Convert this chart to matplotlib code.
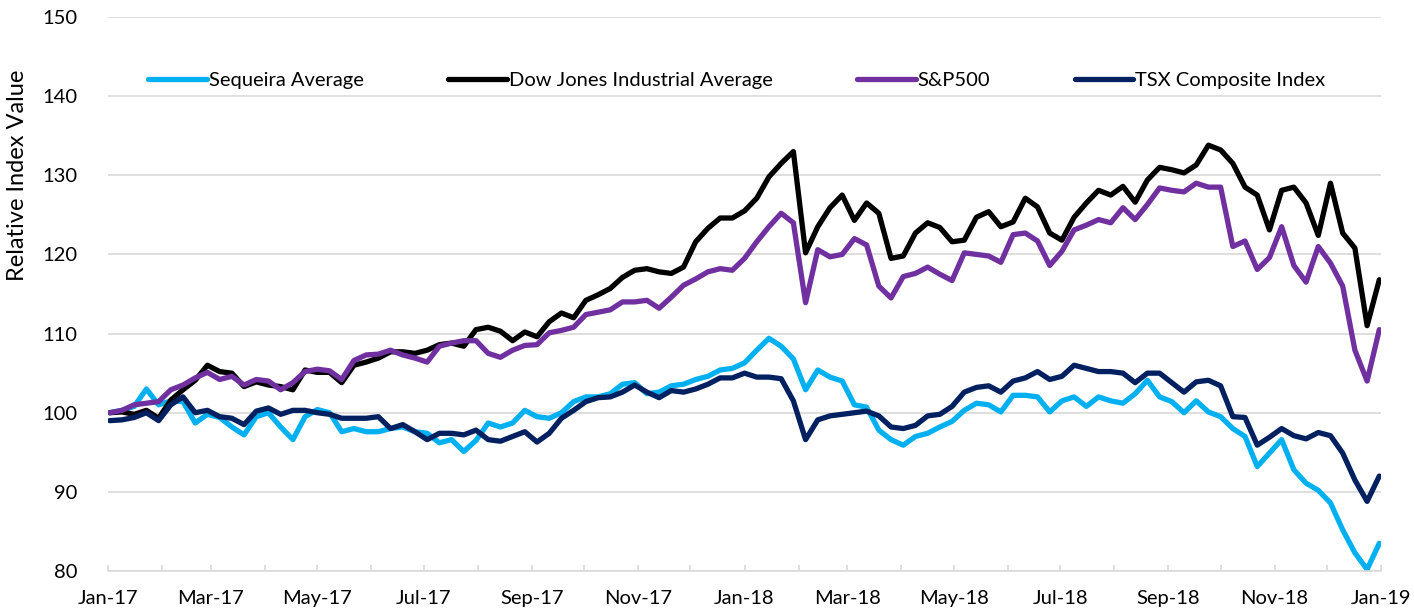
import pandas as pd
import matplotlib.pyplot as plt
import matplotlib.dates as mdates

# weekly readings, 2017-01-02 .. 2018-12-31
dates = pd.date_range("2017-01-02", periods=105, freq="7D")

sequeira = [100.0, 100.3, 100.8, 103.0, 101.0, 101.5, 101.4, 98.7, 99.8, 99.4,
            98.2, 97.2, 99.5, 100.0, 98.2, 96.6, 99.5, 100.4, 100.0, 97.6,
            98.0, 97.6, 97.6, 98.0, 98.2, 97.6, 97.4, 96.2, 96.6, 95.1,
            96.5, 98.7, 98.2, 98.7, 100.3, 99.5, 99.3, 100.0, 101.4, 102.0,
            102.0, 102.4, 103.6, 103.8, 102.4, 102.6, 103.4, 103.6, 104.2, 104.6,
            105.4, 105.6, 106.3, 107.9, 109.4, 108.4, 106.8, 102.9, 105.4, 104.5,
            104.0, 101.0, 100.7, 97.8, 96.6, 95.9, 97.0, 97.4, 98.2, 98.9,
            100.3, 101.2, 101.0, 100.1, 102.2, 102.2, 102.0, 100.1, 101.5, 102.0,
            100.8, 102.0, 101.5, 101.2, 102.4, 104.1, 102.0, 101.4, 100.0, 101.5,
            100.1, 99.5, 98.0, 97.0, 93.2, 94.9, 96.6, 92.8, 91.1, 90.2,
            88.6, 85.2, 82.3, 80.2, 83.5]

dow = [100.0, 100.1, 99.8, 100.3, 99.3, 101.6, 102.9, 104.1, 106.0, 105.2,
       105.0, 103.3, 103.9, 103.5, 103.3, 102.9, 105.4, 105.1, 105.1, 103.8,
       106.0, 106.4, 106.9, 107.7, 107.7, 107.5, 107.9, 108.6, 108.8, 108.4,
       110.5, 110.8, 110.3, 109.1, 110.2, 109.6, 111.5, 112.6, 112.0, 114.2,
       114.9, 115.7, 117.1, 118.0, 118.2, 117.8, 117.6, 118.4, 121.6, 123.3,
       124.6, 124.6, 125.5, 127.1, 129.8, 131.5, 133.0, 120.2, 123.5, 125.9,
       127.5, 124.3, 126.5, 125.2, 119.5, 119.8, 122.7, 124.0, 123.4, 121.6,
       121.8, 124.7, 125.4, 123.5, 124.1, 127.1, 126.0, 122.7, 121.8, 124.7,
       126.5, 128.1, 127.5, 128.6, 126.6, 129.4, 131.0, 130.7, 130.3, 131.3,
       133.8, 133.2, 131.5, 128.5, 127.5, 123.1, 128.1, 128.5, 126.5, 122.4,
       129.0, 122.7, 120.8, 111.0, 116.8]

sp500 = [100.0, 100.3, 101.0, 101.2, 101.4, 102.9, 103.5, 104.4, 105.1, 104.2,
         104.6, 103.5, 104.2, 104.0, 102.9, 103.8, 105.2, 105.5, 105.3, 104.2,
         106.6, 107.3, 107.4, 107.9, 107.3, 106.9, 106.4, 108.4, 108.8, 109.1,
         109.1, 107.5, 107.0, 107.9, 108.5, 108.6, 110.1, 110.4, 110.8, 112.4,
         112.7, 113.0, 114.0, 114.0, 114.2, 113.2, 114.6, 116.1, 116.9, 117.8,
         118.2, 118.0, 119.5, 121.6, 123.5, 125.2, 124.0, 113.9, 120.6, 119.7,
         120.0, 122.0, 121.2, 116.0, 114.5, 117.2, 117.6, 118.4, 117.5, 116.7,
         120.2, 120.0, 119.8, 119.0, 122.5, 122.7, 121.7, 118.6, 120.4, 123.1,
         123.7, 124.4, 124.0, 125.9, 124.4, 126.3, 128.4, 128.1, 127.9, 129.0,
         128.5, 128.5, 121.0, 121.7, 118.1, 119.6, 123.5, 118.6, 116.5, 121.0,
         118.9, 116.0, 107.9, 104.0, 110.5]

tsx = [99.0, 99.1, 99.4, 100.0, 99.0, 101.0, 102.0, 100.0, 100.3, 99.5,
       99.3, 98.5, 100.2, 100.6, 99.8, 100.3, 100.3, 100.0, 99.8, 99.3,
       99.3, 99.3, 99.5, 98.0, 98.5, 97.6, 96.6, 97.4, 97.4, 97.2,
       97.8, 96.6, 96.4, 97.0, 97.6, 96.3, 97.4, 99.3, 100.3, 101.4,
       101.9, 102.0, 102.6, 103.5, 102.6, 101.9, 102.8, 102.6, 103.0, 103.6,
       104.4, 104.4, 105.0, 104.5, 104.5, 104.3, 101.5, 96.6, 99.1, 99.6,
       99.8, 100.0, 100.2, 99.6, 98.2, 98.0, 98.4, 99.6, 99.8, 100.8,
       102.6, 103.2, 103.4, 102.6, 104.0, 104.4, 105.2, 104.2, 104.6, 106.0,
       105.6, 105.2, 105.2, 105.0, 103.8, 105.0, 105.0, 103.8, 102.6, 103.9,
       104.1, 103.4, 99.5, 99.4, 95.9, 96.9, 98.0, 97.1, 96.7, 97.5,
       97.1, 94.9, 91.5, 88.8, 92.0]

names = ["Sequeira Average", "Dow Jones Industrial Average", "S&P500", "TSX Composite Index"]
colors = ["#00B0F0", "#000000", "#7030A0", "#002060"]

plt.rcParams['font.family'] = ['Lato', 'DejaVu Sans']
plt.rcParams['font.size'] = 14.5

fig = plt.figure(figsize=(14.14, 6.15), dpi=100)
ax = fig.add_axes([0.0764, 0.0715, 0.9003, 0.9009])

for vals, name, c in zip([sequeira, dow, sp500, tsx], names, colors):
    ax.plot(dates, vals, color=c, lw=3.8, label=name,
            solid_joinstyle='round', solid_capstyle='round')

ax.set_ylim(80, 150)
ax.set_yticks(range(80, 151, 10))
ax.set_xlim(pd.Timestamp("2017-01-01"), pd.Timestamp("2019-01-01"))
ax.xaxis.set_major_locator(mdates.MonthLocator(bymonth=[1, 3, 5, 7, 9, 11]))
ax.xaxis.set_major_formatter(mdates.DateFormatter("%b-%y"))
ax.xaxis.set_minor_locator(mdates.MonthLocator())

ax.grid(axis='y', color='#D9D9D9', lw=1.2)
ax.set_axisbelow(True)
for s in ['top', 'right', 'left']:
    ax.spines[s].set_visible(False)
ax.spines['bottom'].set_color('#D9D9D9')
ax.spines['bottom'].set_linewidth(1.2)
ax.tick_params(axis='y', length=0, pad=22)
ax.tick_params(axis='x', which='both', direction='in', length=4, color='#D9D9D9', width=1.2, pad=14)

ax.set_ylabel("Relative Index Value", fontsize=17)
ax.yaxis.set_label_coords(-0.063, 0.715)

leg = ax.legend(loc='center', bbox_to_anchor=(0.494, 0.886), ncol=4, frameon=False,
                handlelength=2.9, handletextpad=0.1, columnspacing=4.2)

fig.savefig("out.png", dpi=100)
